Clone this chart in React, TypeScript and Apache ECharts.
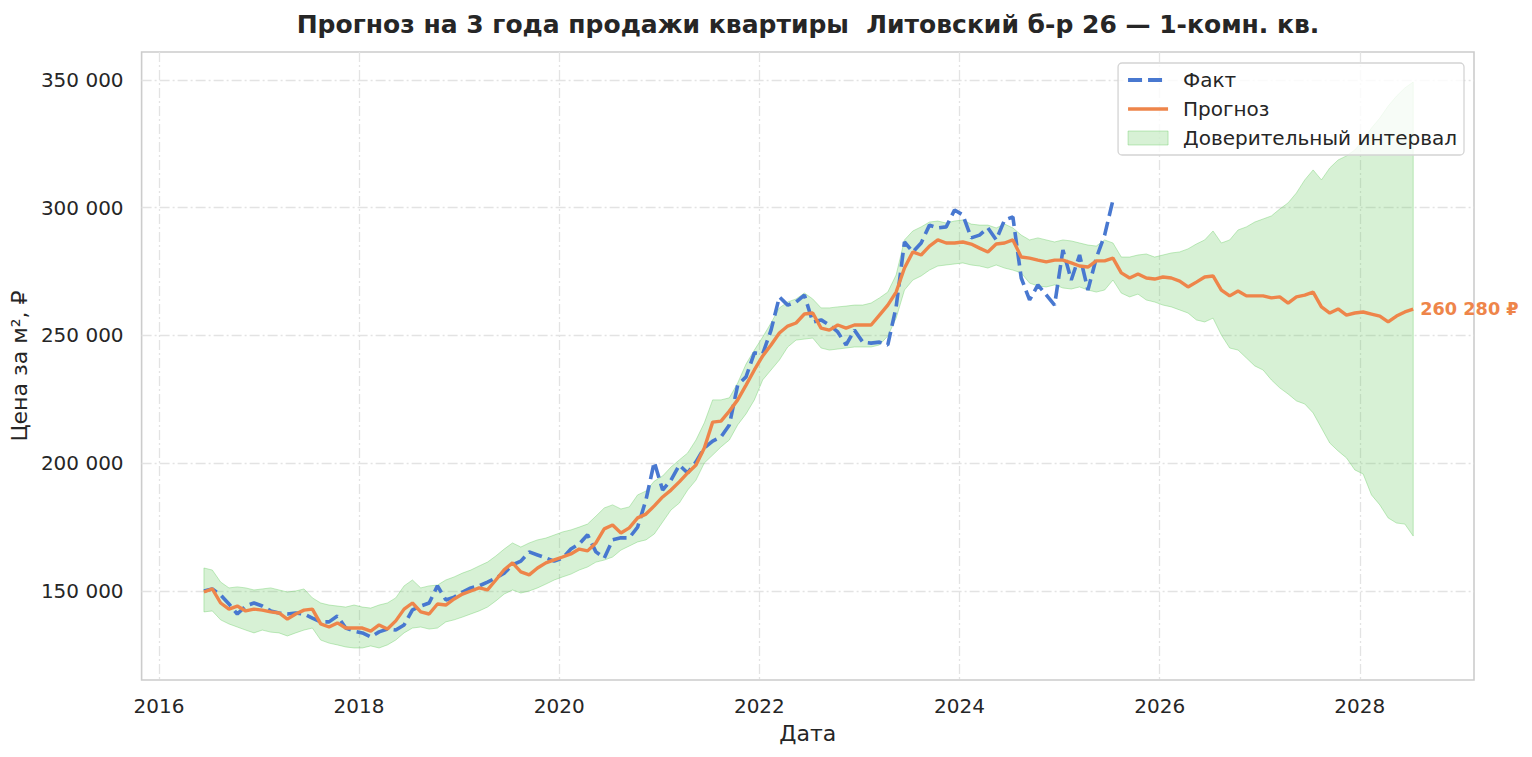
import * as echarts from "echarts";
import { useEffect, useRef } from "react";

// first monthly point of every series (≈ June 2016), one value per month
const START_YEAR = 2016.45;

const factValues = [
    150000, 150800, 148400, 144900, 141000, 144100, 145300, 144100, 142200, 141400,
    141000, 141400, 141000, 139400, 137900, 137900, 140200, 135500, 134300, 133600,
    132000, 134000, 135100, 134700, 136700, 142600, 144100, 145300, 152000, 146500,
    147600, 149600, 151200, 152000, 153500, 155100, 157000, 160200, 161700, 165300,
    164100, 162900, 161700, 162900, 166400, 168400, 172000, 165300, 162900, 170000,
    170800, 170800, 175000, 185600, 200500, 189500, 193400, 199300, 196200, 200500,
    206000, 208700, 210300, 215000, 230600, 233800, 243200, 242800, 252100, 265100,
    261900, 263100, 265800, 255300, 256100, 254100, 251400, 246300, 252100, 247400,
    247000, 247400, 246300, 261200, 286600, 282700, 286200, 293200, 292100, 292500,
    299100, 297200, 288200, 289300, 292100, 287400, 295200, 296400, 272500, 263900,
    269800, 265900, 261900, 283500, 271700, 281500, 267800, 280300, 289300, 303000
];

const forecastValues = [
    149600, 150800, 145300, 142900, 144100, 142200, 142900, 142500, 141800, 141400,
    139000, 141000, 142500, 142900, 137100, 135900, 137500, 135500, 135500, 135500,
    134300, 136700, 135100, 138300, 142900, 145300, 141800, 141000, 144900, 144500,
    146900, 148800, 150000, 151200, 150400, 154300, 158300, 161000, 157500, 156300,
    159000, 161000, 162200, 163300, 164500, 166400, 165700, 168800, 174300, 175800,
    172700, 174700, 178600, 180100, 183300, 186800, 189500, 192700, 196200, 199300,
    206000, 216100, 216500, 220400, 224800, 230600, 236500, 242000, 246300, 251000,
    253700, 254900, 258400, 258800, 252900, 252100, 254100, 252900, 254100, 254100,
    254100, 258000, 261900, 267000, 276400, 282700, 281500, 285000, 287400, 286200,
    286200, 286600, 285800, 284200, 282700, 285800, 286200, 287400, 280700, 280300,
    279500, 278800, 279500, 279500, 278400, 277200, 276800, 279200, 279200, 280300,
    274500, 272500, 274100, 272500, 272100, 272900, 272500, 271300, 269000, 270900,
    272900, 273300, 267800, 265500, 267400, 265500, 265500, 265500, 264700, 265100,
    262700, 265100, 265800, 267000, 261200, 258800, 260400, 258000, 258800, 259200,
    258400, 257600, 255300, 257600, 259200, 260280
];

const bandUpper = [
    159000, 158200, 153500, 151200, 151600, 151200, 150400, 150800, 151200, 150400,
    149600, 150000, 150800, 147300, 145300, 144500, 144100, 143700, 144500, 143700,
    143300, 144500, 145300, 147300, 152000, 154300, 151200, 152000, 152300, 154300,
    155500, 157000, 158200, 159800, 161300, 163700, 166400, 168800, 167200, 168800,
    170000, 170700, 171900, 173100, 173900, 175000, 176200, 179300, 182500, 183700,
    182100, 182900, 187600, 189100, 193000, 195000, 198500, 201300, 204000, 209100,
    215800, 224800, 224800, 225600, 231400, 238800, 244300, 249400, 254900, 260800,
    263100, 264300, 266600, 264300, 260800, 260800, 261200, 261500, 261900, 261900,
    262700, 264700, 267000, 273700, 287400, 290900, 292500, 294400, 294800, 294000,
    294800, 295200, 293600, 293200, 293200, 292100, 293600, 292100, 289300, 287400,
    288200, 287400, 286600, 287400, 287000, 286200, 285400, 285000, 287400, 286200,
    280700, 280700, 281500, 281900, 280700, 281500, 282300, 282700, 283900, 285800,
    287400, 290900, 286200, 287400, 291300, 292500, 294400, 295600, 296800, 299500,
    301900, 305800, 310900, 314800, 310900, 315600, 318700, 320300, 322600, 326500,
    331200, 335100, 339800, 343700, 346900, 349200
];

const bandLower = [
    141800, 142200, 138700, 137100, 135900, 134700, 133600, 134700, 133900, 133600,
    132400, 133600, 134700, 135500, 130800, 129600, 128900, 128100, 127700, 127700,
    128500, 127700, 128900, 130800, 133600, 135500, 135900, 135100, 135500, 137900,
    138700, 139800, 141000, 142200, 143700, 146100, 148800, 150400, 149200, 150000,
    151200, 152700, 154300, 155500, 156600, 158200, 159400, 161300, 162100, 163300,
    166000, 167600, 169200, 170000, 172300, 177000, 181700, 184400, 189500, 193400,
    200100, 203200, 206400, 209100, 215000, 219300, 224800, 232600, 236500, 240400,
    245500, 248200, 248600, 249000, 245100, 244300, 244700, 245100, 245500, 245500,
    245500, 246300, 249800, 256800, 267800, 271700, 273300, 275600, 277200, 277600,
    278000, 278400, 277600, 277200, 276400, 277600, 276400, 275600, 274500, 270500,
    269400, 269000, 269800, 268600, 268200, 269000, 267800, 267000, 267800, 271700,
    266600, 265100, 266200, 263900, 263100, 261900, 261200, 260000, 258800, 256100,
    255300, 256800, 250200, 245100, 244300, 241200, 238100, 236500, 232600, 229500,
    227100, 224400, 223200, 219700, 213800, 207900, 204800, 202100, 197400, 195800,
    187600, 183700, 178600, 176600, 176200, 171500
];

const xTicks = [2016, 2018, 2020, 2022, 2024, 2026, 2028];
const yTicks = [150000, 200000, 250000, 300000, 350000];

const FONT = "DejaVu Sans";
const TEXT = "#262626";
const BLUE = "#4878d0";
const ORANGE = "#ee854a";
const BAND_FILL = "rgba(106, 204, 100, 0.27)";
const BAND_EDGE = "rgba(106, 204, 100, 0.4)";
const FACT_DASH = [14, 6];
const GRID_LINE = {
    color: "#e3e3e3",
    width: 1.3,
    type: [10, 3, 2, 3] as number[]
};

const yearAt = (i: number) => START_YEAR + i / 12;
const spaced = (v: number) => String(Math.round(v)).replace(/\B(?=(\d{3})+(?!\d))/g, " ");

export default function App() {
    const chartRef = useRef<HTMLDivElement>(null);

    useEffect(() => {
        if (!chartRef.current) return;
        const chart = echarts.init(chartRef.current, null, { renderer: "svg" });

        const factData = factValues.map((v, i) => [yearAt(i), v]);
        const forecastData = forecastValues.map((v, i) => [yearAt(i), v]);

        const option: echarts.EChartsOption = {
            animation: false,
            backgroundColor: "#ffffff",
            textStyle: { fontFamily: FONT, color: TEXT },
            title: {
                text: "Прогноз на 3 года продажи квартиры  Литовский б-р 26 — 1-комн. кв.",
                left: 803,
                top: 19,
                textAlign: "center",
                textVerticalAlign: "middle",
                textStyle: { fontFamily: FONT, fontSize: 25, fontWeight: "bold", color: TEXT }
            },
            legend: {
                orient: "vertical",
                right: 68,
                top: 63,
                padding: [7, 7, 7, 8],
                itemGap: 9,
                itemWidth: 40,
                itemHeight: 14,
                backgroundColor: "rgba(255,255,255,0.8)",
                borderColor: "#d4d4d4",
                borderWidth: 1.3,
                borderRadius: 4,
                textStyle: { fontFamily: FONT, fontSize: 20, color: TEXT, padding: [0, 0, 0, 10] },
                data: [
                    {
                        name: "Факт",
                        itemStyle: { opacity: 0 },
                        lineStyle: { color: BLUE, width: 4, type: FACT_DASH }
                    },
                    {
                        name: "Прогноз",
                        itemStyle: { opacity: 0 },
                        lineStyle: { color: ORANGE, width: 3.5 }
                    },
                    {
                        name: "Доверительный интервал",
                        icon: "rect",
                        itemStyle: { color: BAND_FILL, borderColor: BAND_EDGE, borderWidth: 1 }
                    }
                ]
            },
            grid: {
                left: 140,
                right: 58,
                top: 52,
                bottom: 77,
                show: true,
                backgroundColor: "#ffffff",
                borderColor: "#cccccc",
                borderWidth: 1.6
            },
            xAxis: {
                type: "value",
                min: 2015.827,
                max: 2029.141,
                name: "Дата",
                nameLocation: "middle",
                nameGap: 42,
                nameTextStyle: { fontFamily: FONT, fontSize: 22, color: TEXT },
                axisLine: { show: false },
                axisTick: { show: false, customValues: xTicks },
                axisLabel: {
                    customValues: xTicks,
                    margin: 16,
                    fontSize: 20,
                    color: TEXT,
                    fontFamily: FONT,
                    formatter: (v: number) => String(Math.round(v))
                },
                splitLine: { show: true, lineStyle: GRID_LINE }
            },
            yAxis: {
                type: "value",
                min: 115160,
                max: 360960,
                name: "Цена за м², ₽",
                nameLocation: "middle",
                nameGap: 105,
                nameTextStyle: { fontFamily: FONT, fontSize: 22, color: TEXT },
                axisLine: { show: false },
                axisTick: { show: false, customValues: yTicks },
                axisLabel: {
                    customValues: yTicks,
                    margin: 18,
                    fontSize: 20,
                    color: TEXT,
                    fontFamily: FONT,
                    formatter: (v: number) => spaced(v)
                },
                splitLine: { show: true, lineStyle: GRID_LINE }
            },
            series: [
                {
                    name: "Доверительный интервал",
                    type: "custom",
                    silent: true,
                    itemStyle: { color: BAND_FILL },
                    data: [[yearAt(0), bandLower[0]]],
                    renderItem: (_params: any, api: any) => {
                        const pts: number[][] = [];
                        bandUpper.forEach((v, i) => pts.push(api.coord([yearAt(i), v])));
                        for (let i = bandLower.length - 1; i >= 0; i--) {
                            pts.push(api.coord([yearAt(i), bandLower[i]]));
                        }
                        return {
                            type: "polygon",
                            shape: { points: pts },
                            style: { fill: BAND_FILL, stroke: BAND_EDGE, lineWidth: 1 }
                        };
                    }
                },
                {
                    name: "Факт",
                    type: "line",
                    data: factData,
                    symbol: "none",
                    color: BLUE,
                    lineStyle: { color: BLUE, width: 3.6, type: FACT_DASH }
                },
                {
                    name: "Прогноз",
                    type: "line",
                    data: forecastData,
                    symbol: "none",
                    color: ORANGE,
                    lineStyle: { color: ORANGE, width: 3.4 },
                    endLabel: {
                        show: true,
                        distance: 7,
                        fontFamily: FONT,
                        fontSize: 17.7,
                        fontWeight: "bold",
                        color: ORANGE,
                        formatter: (p: any) => `${spaced(p.value[1])} ₽`
                    }
                }
            ]
        };

        chart.setOption(option);
        return () => chart.dispose();
    }, []);

    return (
        <div
            ref={chartRef}
            style={{ position: "fixed", left: 0, top: 0, width: 1532, height: 757 }}
        />
    );
}
